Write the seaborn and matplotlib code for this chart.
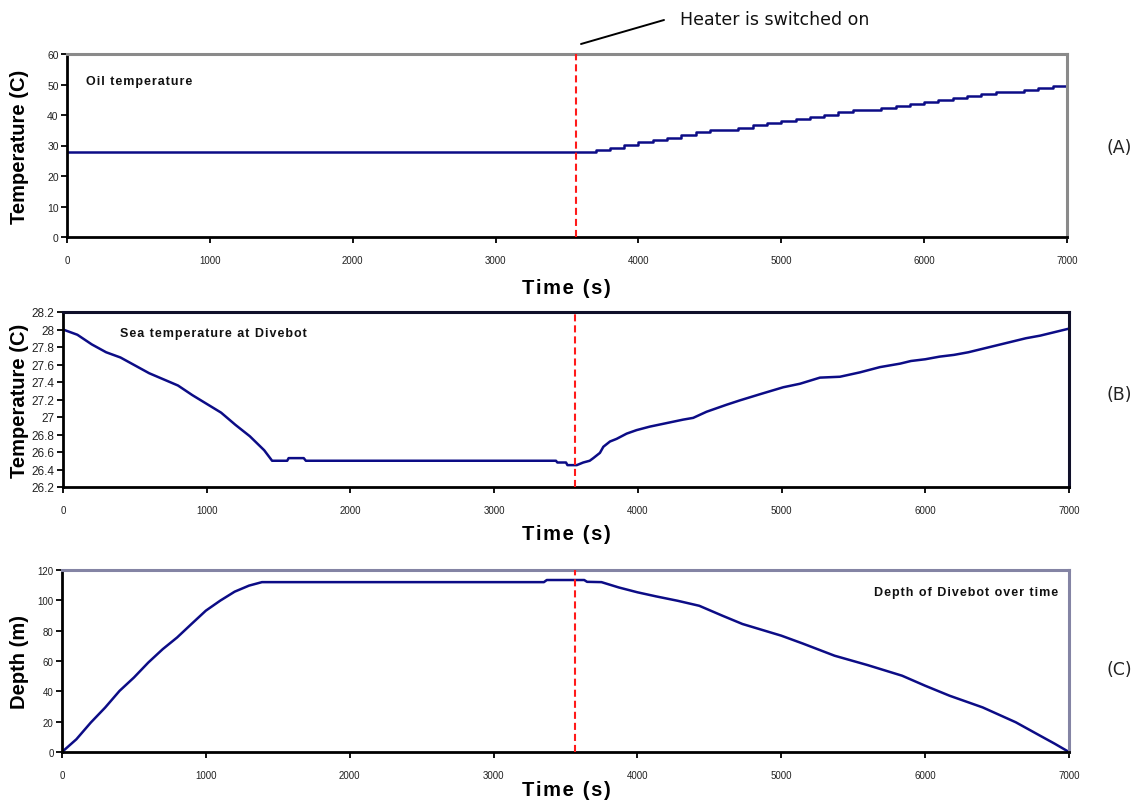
import matplotlib
matplotlib.use("Agg")
import matplotlib.pyplot as plt
from matplotlib.lines import Line2D
import seaborn as sns

sns.set_theme(style="white")
plt.rcParams['font.family'] = ['Liberation Sans', 'DejaVu Sans']

# ---------------------------------------------------------------- data
HEATER_ON_S = 3565

X_TICKS = [0, 1000, 2000, 3000, 4000, 5000, 6000, 7000]

# (A) oil temperature, logged every 100 s
OIL_TIME_S = [0, 100, 200, 300, 400, 500, 600, 700, 800, 900,
              1000, 1100, 1200, 1300, 1400, 1500, 1600, 1700, 1800, 1900,
              2000, 2100, 2200, 2300, 2400, 2500, 2600, 2700, 2800, 2900,
              3000, 3100, 3200, 3300, 3400, 3500, 3600, 3700, 3800, 3900,
              4000, 4100, 4200, 4300, 4400, 4500, 4600, 4700, 4800, 4900,
              5000, 5100, 5200, 5300, 5400, 5500, 5600, 5700, 5800, 5900,
              6000, 6100, 6200, 6300, 6400, 6500, 6600, 6700, 6800, 6900,
              7000]
OIL_TEMP_C = [28.0, 28.0, 28.0, 28.0, 28.0, 28.0, 28.0, 28.0, 28.0, 28.0,
              28.0, 28.0, 28.0, 28.0, 28.0, 28.0, 28.0, 28.0, 28.0, 28.0,
              28.0, 28.0, 28.0, 28.0, 28.0, 28.0, 28.0, 28.0, 28.0, 28.0,
              28.0, 28.0, 28.0, 28.0, 28.0, 28.0, 28.0, 28.5, 29.3, 30.2,
              31.0, 31.8, 32.6, 33.4, 34.3, 35.2, 35.2, 35.9, 36.6, 37.4,
              38.1, 38.8, 39.4, 40.1, 40.9, 41.5, 41.5, 42.2, 42.9, 43.6,
              44.4, 45.0, 45.7, 46.3, 47.0, 47.6, 47.6, 48.3, 48.9, 49.5,
              50.3]
OIL_Y_TICKS = [0, 10, 20, 30, 40, 50, 60]

# (B) sea temperature at the Divebot
SEA_TIME_S = [0, 100, 200, 300, 400, 500, 600, 700, 800, 900,
              1000, 1100, 1200, 1300, 1400, 1455, 1560, 1570, 1675, 1690,
              3430, 3440, 3500, 3510, 3575, 3620, 3665, 3690, 3736, 3760,
              3806, 3852, 3922, 3991, 4083, 4199, 4315, 4385, 4478, 4617,
              4710, 4849, 5012, 5128, 5267, 5406, 5545, 5684, 5825, 5900,
              6000, 6100, 6200, 6300, 6400, 6500, 6600, 6700, 6800, 6900,
              7000]
SEA_TEMP_C = [28.00, 27.94, 27.83, 27.74, 27.68, 27.59, 27.50, 27.43, 27.36, 27.25,
              27.15, 27.05, 26.91, 26.78, 26.62, 26.50, 26.50, 26.53, 26.53, 26.50,
              26.50, 26.48, 26.48, 26.45, 26.45, 26.48, 26.50, 26.53, 26.59, 26.66,
              26.72, 26.75, 26.81, 26.85, 26.89, 26.93, 26.97, 26.99, 27.06, 27.14,
              27.19, 27.26, 27.34, 27.38, 27.45, 27.46, 27.51, 27.57, 27.61, 27.64,
              27.66, 27.69, 27.71, 27.74, 27.78, 27.82, 27.86, 27.90, 27.93, 27.97,
              28.01]
SEA_Y_TICKS = [26.2, 26.4, 26.6, 26.8, 27.0, 27.2, 27.4, 27.6, 27.8, 28.0, 28.2]
SEA_Y_LABELS = ['26.2', '26.4', '26.6', '26.8', '27', '27.2', '27.4',
                '27.6', '27.8', '28', '28.2']

# (C) depth of the Divebot
DEPTH_TIME_S = [0, 100, 200, 300, 400, 500, 600, 700, 800, 900,
                1000, 1100, 1200, 1300, 1390, 3350, 3370, 3630, 3650, 3750,
                3870, 4000, 4130, 4280, 4430, 4590, 4730, 5000, 5150, 5370,
                5600, 5840, 6000, 6170, 6400, 6630, 6800, 6900, 7000]
DEPTH_M = [0.0, 8.4, 19.4, 29.3, 40.3, 49.1, 59.0, 67.8, 75.5, 84.4,
           93.2, 99.8, 105.7, 109.7, 112.0, 112.0, 113.4, 113.4, 112.2, 112.0,
           108.5, 105.3, 102.6, 99.7, 96.4, 89.9, 84.4, 76.7, 71.5, 63.5,
           57.3, 50.3, 43.7, 37.1, 29.4, 19.6, 10.7, 5.5, 0.0]
DEPTH_Y_TICKS = [0, 20, 40, 60, 80, 100, 120]

# ---------------------------------------------------------------- layout
W, H = 1140, 803
LINE = '#0c0c86'


def fx(px):
    return px / W


def fy(py):
    return 1 - py / H


def spaced(text):
    return '\u200a'.join(text)


fig = plt.figure(figsize=(W / 100, H / 100), dpi=100)
fig.patch.set_facecolor('white')

panels = [
    dict(rect=(67, 55, 1067, 238), t=OIL_TIME_S, y=OIL_TEMP_C, steps=True,
         yticks=OIL_Y_TICKS, ylabels=[str(v) for v in OIL_Y_TICKS], ylim=(0, 60),
         ylabel='Temperature (C)', frame='#8a8a8a', ytick_size=7.5,
         xlabel_y=289, tag='(A)', tag_y=148),
    dict(rect=(63, 313, 1069, 488), t=SEA_TIME_S, y=SEA_TEMP_C, steps=False,
         yticks=SEA_Y_TICKS, ylabels=SEA_Y_LABELS, ylim=(26.2, 28.2),
         ylabel='Temperature (C)', frame='#10102a', ytick_size=8.5,
         xlabel_y=535, tag='(B)', tag_y=395),
    dict(rect=(62, 571, 1069, 753), t=DEPTH_TIME_S, y=DEPTH_M, steps=False,
         yticks=DEPTH_Y_TICKS, ylabels=[str(v) for v in DEPTH_Y_TICKS], ylim=(0, 120),
         ylabel='Depth (m)', frame='#8484a4', ytick_size=7,
         xlabel_y=791, tag='(C)', tag_y=670),
]

axes = []
for p in panels:
    x0, y0, x1, y1 = p['rect']
    ax = fig.add_axes([fx(x0), fy(y1), fx(x1 - x0), (y1 - y0) / H])
    ax.set_facecolor('white')
    kw = dict(drawstyle='steps-post') if p['steps'] else {}
    sns.lineplot(x=p['t'], y=p['y'], ax=ax, color=LINE, linewidth=1.8, **kw)
    ax.axvline(HEATER_ON_S, color='#ff1a1a', linewidth=1.5,
               linestyle=(0, (3.4, 1.9)), zorder=3)

    ax.set_xlim(0, 7000)
    ax.set_ylim(*p['ylim'])
    ax.set_xticks(X_TICKS)
    ax.set_xticklabels([str(v) for v in X_TICKS])
    ax.set_yticks(p['yticks'])
    ax.set_yticklabels(p['ylabels'])
    ax.tick_params(axis='both', which='both', bottom=True, left=True,
                   direction='out', color='black', width=1.3, length=4,
                   labelcolor='#222222')
    ax.tick_params(axis='x', labelsize=7, pad=9)
    ax.tick_params(axis='y', labelsize=p['ytick_size'], pad=2)
    ax.grid(False)

    for side in ('left', 'bottom'):
        ax.spines[side].set_color('black')
        ax.spines[side].set_linewidth(2.0)
    for side in ('top', 'right'):
        ax.spines[side].set_color(p['frame'])
        ax.spines[side].set_linewidth(2.2)
    for s in ax.spines.values():
        s.set_visible(True)

    ax.set_ylabel(p['ylabel'], fontsize=14.5, fontweight='bold', color='black')
    ax.yaxis.set_label_coords((29 - x0) / (x1 - x0), 0.5)
    ax.set_xlabel('')
    fig.text(fx(566), fy(p['xlabel_y']), spaced('Time (s)'), fontsize=14.5,
             fontweight='bold', ha='center', va='center', color='black')
    fig.text(fx(1119), fy(p['tag_y']), p['tag'], fontsize=12.5,
             family=['DejaVu Sans'], ha='center', va='center', color='#222222')
    axes.append(ax)

# panel captions
fig.text(fx(86), fy(82), spaced('Oil temperature'), fontsize=9,
         fontweight='bold', ha='left', va='center', color='#111111')
fig.text(fx(120), fy(334), spaced('Sea temperature at Divebot'), fontsize=9,
         fontweight='bold', ha='left', va='center', color='#111111')
fig.text(fx(1058), fy(593), spaced('Depth of Divebot over time'), fontsize=9,
         fontweight='bold', ha='right', va='center', color='#111111')

# heater annotation
fig.add_artist(Line2D([fx(581), fx(664)], [fy(45), fy(21)],
                      transform=fig.transFigure, color='black', linewidth=1.4))
fig.text(fx(680), fy(20), 'Heater is switched on', fontsize=12.5,
         family=['DejaVu Sans'], ha='left', va='center', color='#111111')

fig.savefig('out.png', dpi=100, facecolor='white')
